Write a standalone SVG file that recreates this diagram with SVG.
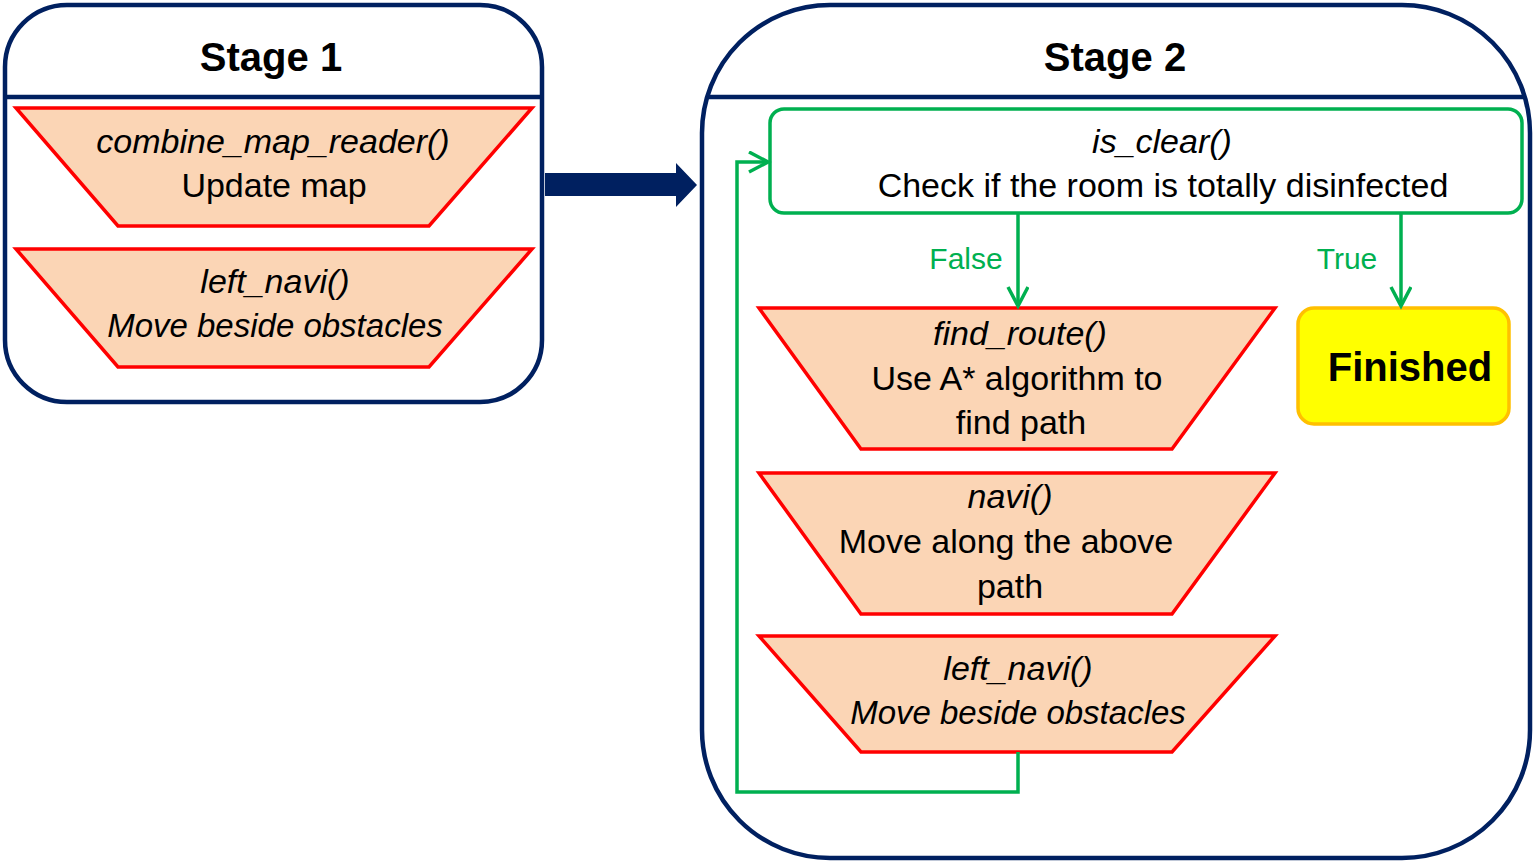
<svg xmlns="http://www.w3.org/2000/svg" width="1537" height="863" viewBox="0 0 1537 863">
<defs>
<style>
.stage{fill:#FFFFFF;stroke:#002060;stroke-width:4.5}
.div{stroke:#002060;stroke-width:4.5;fill:none}
.trap{fill:#FBD5B5;stroke:#FF0000;stroke-width:3.5;stroke-linejoin:miter}
.t{font-family:"Liberation Sans",Arial,sans-serif;font-size:34px;fill:#000;text-anchor:middle}
.i{font-style:italic}
.s{font-size:33px}
.title{font-family:"Liberation Sans",Arial,sans-serif;font-size:40px;font-weight:bold;fill:#000;text-anchor:middle}
.lbl{font-family:"Liberation Sans",Arial,sans-serif;font-size:30px;fill:#00B050;text-anchor:middle}
.g{stroke:#00B050;stroke-width:3.5;fill:none}
</style>
<marker id="chev" markerWidth="24" markerHeight="24" refX="20" refY="11" orient="auto" markerUnits="userSpaceOnUse">
<path d="M1,1 L20,11 L1,21" fill="none" stroke="#00B050" stroke-width="3.5" stroke-linejoin="miter"/>
</marker>
</defs>

<g id="stage1">
<rect class="stage" x="5" y="5" width="537" height="397" rx="62" ry="62"/>
<line class="div" x1="6" y1="97" x2="541" y2="97"/>
<text class="title" x="271" y="71">Stage 1</text>
</g>

<g id="stage2">
<rect class="stage" x="702" y="5" width="828" height="853" rx="128" ry="128"/>
<line class="div" x1="707" y1="97" x2="1525" y2="97"/>
<text class="title" x="1115" y="71">Stage 2</text>
</g>

<g id="combine_map_reader">
<polygon class="trap" points="16,108 532,108 429,226 118,226"/>
<text class="t i" x="273" y="153">combine_map_reader()</text>
<text class="t" x="274" y="197">Update map</text>
</g>

<g id="left_navi_1">
<polygon class="trap" points="16,249 532,249 429,367 118,367"/>
<text class="t i" x="275" y="293">left_navi()</text>
<text class="t i s" x="275" y="337">Move beside obstacles</text>
</g>

<g id="is_clear">
<rect x="770" y="109" width="752" height="104" rx="14" ry="14" fill="#FFFFFF" stroke="#00B050" stroke-width="3.5"/>
<text class="t i" x="1162" y="153">is_clear()</text>
<text class="t" x="1163" y="197">Check if the room is totally disinfected</text>
</g>

<g id="find_route">
<polygon class="trap" points="759,308 1275,308 1172,449 861,449"/>
<text class="t i" x="1020" y="345">find_route()</text>
<text class="t" x="1017" y="390">Use A* algorithm to</text>
<text class="t" x="1021" y="434">find path</text>
</g>

<g id="navi">
<polygon class="trap" points="759,473 1275,473 1172,614 861,614"/>
<text class="t i" x="1010" y="508">navi()</text>
<text class="t" x="1006" y="553">Move along the above</text>
<text class="t" x="1010" y="598">path</text>
</g>

<g id="left_navi_2">
<polygon class="trap" points="759,636 1275,636 1172,752 861,752"/>
<text class="t i" x="1018" y="680">left_navi()</text>
<text class="t i s" x="1018" y="724">Move beside obstacles</text>
</g>

<g id="finished">
<rect x="1298" y="308" width="211" height="116" rx="16" ry="16" fill="#FFFF00" stroke="#FFC000" stroke-width="3.5"/>
<text class="title" x="1410" y="381">Finished</text>
</g>

<g id="connectors">
<polygon points="545,173 676,173 676,163 697,185 676,207 676,196 545,196" fill="#002060"/>
<line class="g" x1="1018" y1="213" x2="1018" y2="306" marker-end="url(#chev)"/>
<line class="g" x1="1401" y1="213" x2="1401" y2="306" marker-end="url(#chev)"/>
<polyline class="g" points="1018,752 1018,792 737,792 737,162 768,162" marker-end="url(#chev)"/>
<text class="lbl" x="966" y="269">False</text>
<text class="lbl" x="1347" y="269">True</text>
</g>
</svg>
